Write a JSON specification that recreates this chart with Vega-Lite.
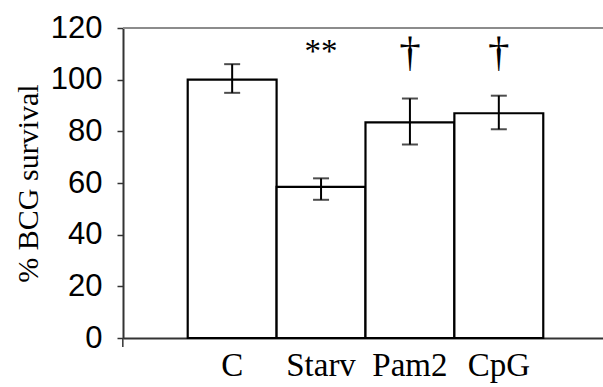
{
  "$schema": "https://vega.github.io/schema/vega-lite/v6.json",
  "autosize": "none",
  "padding": {"left": 123, "top": 28, "right": 0, "bottom": 49},
  "width": 480,
  "height": 310,
  "background": "white",
  "config": {"view": {"stroke": null}},
  "data": {"values": [
    {"group": "C", "value": 100, "lo": 94.9, "hi": 106, "sig": ""},
    {"group": "Starv", "value": 58.5, "lo": 53.5, "hi": 61.8, "sig": "**"},
    {"group": "Pam2", "value": 83.5, "lo": 74.9, "hi": 92.7, "sig": "†"},
    {"group": "CpG", "value": 87, "lo": 80.8, "hi": 93.8, "sig": "†"}
  ]},
  "encoding": {
    "x": {
      "field": "group", "type": "nominal", "sort": null,
      "scale": {"paddingInner": 0, "paddingOuter": 0.7, "align": 0.52},
      "axis": {
        "title": null, "labelAngle": 0, "ticks": false, "tickSize": 0,
        "labelFont": "Liberation Serif", "labelFontSize": 33, "labelColor": "black",
        "labelBaseline": "alphabetic", "labelPadding": 37,
        "domainColor": "#333333", "domainWidth": 2
      }
    }
  },
  "layer": [
    {
      "mark": {"type": "bar", "fill": "white", "stroke": "black", "strokeWidth": 2.2},
      "encoding": {
        "y": {
          "field": "value", "type": "quantitative",
          "scale": {"domain": [0, 120], "nice": false},
          "axis": {
            "title": "% BCG survival",
            "values": [0, 20, 40, 60, 80, 100, 120],
            "grid": false,
            "tickSize": 6, "tickColor": "#333333", "tickWidth": 1.5,
            "domainColor": "#333333", "domainWidth": 2,
            "labelFont": "Liberation Sans", "labelFontSize": 31, "labelColor": "black",
            "labelPadding": 15,
            "titleFont": "Liberation Serif", "titleFontSize": 30, "titleFontWeight": "normal",
            "titleColor": "black", "titleAngle": 270, "titleBaseline": "alphabetic",
            "titleAlign": "center", "titleX": -86, "titleY": 155
          }
        }
      }
    },
    {
      "mark": {"type": "rule", "color": "black", "strokeWidth": 2},
      "encoding": {
        "y": {"field": "lo", "type": "quantitative"},
        "y2": {"field": "hi"}
      }
    },
    {
      "mark": {"type": "tick", "color": "black", "orient": "horizontal", "size": 16, "thickness": 2},
      "encoding": {"y": {"field": "lo", "type": "quantitative"}}
    },
    {
      "mark": {"type": "tick", "color": "black", "orient": "horizontal", "size": 16, "thickness": 2},
      "encoding": {"y": {"field": "hi", "type": "quantitative"}}
    },
    {
      "transform": [{"filter": "datum.sig == '**'"}],
      "mark": {"type": "text", "font": "Liberation Serif", "fontSize": 33, "color": "black", "baseline": "alphabetic", "align": "center"},
      "encoding": {
        "y": {"datum": 106.7, "type": "quantitative"},
        "text": {"field": "sig"}
      }
    },
    {
      "transform": [{"filter": "datum.sig == '†'"}],
      "mark": {"type": "text", "font": "Liberation Serif", "fontSize": 43, "color": "black", "baseline": "alphabetic", "align": "center"},
      "encoding": {
        "y": {"datum": 105.4, "type": "quantitative"},
        "text": {"field": "sig"}
      }
    },
    {
      "mark": {"type": "rule", "color": "#8c8c8c", "strokeWidth": 2},
      "encoding": {"y": {"datum": 120, "type": "quantitative"}, "x": null}
    },
    {
      "data": {"values": [{"group": "C"}]},
      "mark": {"type": "rule", "color": "#333333", "strokeWidth": 1.5},
      "encoding": {
        "x": {"field": "group", "type": "nominal", "bandPosition": -0.73},
        "y": {"datum": 0, "type": "quantitative"},
        "y2": {"datum": -3.5}
      }
    }
  ]
}
